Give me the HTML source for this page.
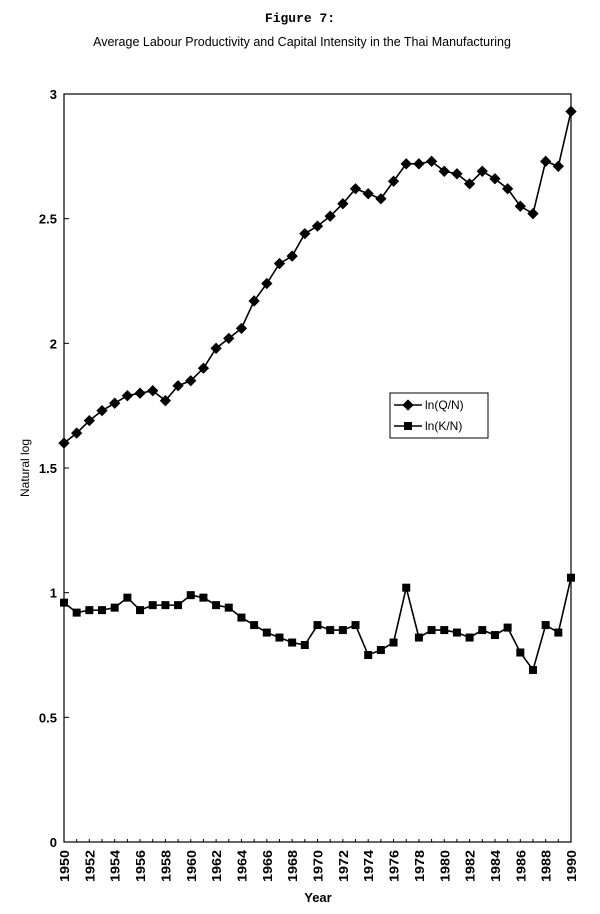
<!DOCTYPE html>
<html><head><meta charset="utf-8"><style>
body{margin:0;background:#fff;width:600px;height:914px;overflow:hidden}
svg{display:block}
text{font-family:"Liberation Sans",sans-serif;fill:#000}
</style></head><body>
<svg width="600" height="914" id="chart">
<text x="300" y="22" text-anchor="middle" style="font-family:'Liberation Mono',monospace;font-size:13px;font-weight:bold">Figure 7:</text>
<text x="302" y="46" text-anchor="middle" font-size="12.5">Average Labour Productivity and Capital Intensity in the Thai Manufacturing</text>
<rect x="64" y="94" width="507" height="748" fill="none" stroke="#000" stroke-width="1.2"/>
<text transform="translate(29,468) rotate(-90)" text-anchor="middle" font-size="12">Natural log</text>
<text x="318" y="902" text-anchor="middle" font-size="13" font-weight="bold">Year</text>
<g id="axes"></g>
<g id="series"></g>
<g>
<rect x="390" y="393" width="98" height="45" fill="#fff" stroke="#000"/>
<line x1="394" y1="405" x2="422" y2="405" stroke="#000" stroke-width="1.5"/>
<rect x="404" y="401" width="8" height="8" transform="rotate(45 408 405)" fill="#000"/>
<text x="425" y="409" font-size="12">ln(Q/N)</text>
<line x1="394" y1="426" x2="422" y2="426" stroke="#000" stroke-width="1.5"/>
<rect x="404" y="422" width="8" height="8" fill="#000"/>
<text x="425" y="430" font-size="12">ln(K/N)</text>
</g>
</svg>
<script>
const years=[];for(let y=1950;y<=1990;y++)years.push(y);
const qn=[1.60,1.64,1.69,1.73,1.76,1.79,1.80,1.81,1.77,1.83,1.85,1.90,1.98,2.02,2.06,2.17,2.24,2.32,2.35,2.44,2.47,2.51,2.56,2.62,2.60,2.58,2.65,2.72,2.72,2.73,2.69,2.68,2.64,2.69,2.66,2.62,2.55,2.52,2.73,2.71,2.93];
const kn=[0.96,0.92,0.93,0.93,0.94,0.98,0.93,0.95,0.95,0.95,0.99,0.98,0.95,0.94,0.90,0.87,0.84,0.82,0.80,0.79,0.87,0.85,0.85,0.87,0.75,0.77,0.80,1.02,0.82,0.85,0.85,0.84,0.82,0.85,0.83,0.86,0.76,0.69,0.87,0.84,1.06];
const yTicks=[0,0.5,1,1.5,2,2.5,3];
const yTickLabels=["0","0.5","1","1.5","2","2.5","3"];
const NS="http://www.w3.org/2000/svg";
const X0=64,X1=571,Y0=842,Y1=94;
const xs=i=>X0+i*(X1-X0)/(years.length-1);
const ys=v=>Y0-(v/3)*(Y0-Y1);
const ax=document.getElementById('axes'),se=document.getElementById('series');
function mk(t,a,p){const e=document.createElementNS(NS,t);for(const k in a)e.setAttribute(k,a[k]);p.appendChild(e);return e;}
yTicks.forEach((v,i)=>{
 const l=mk('line',{x1:X0,x2:X0+5,y1:ys(v),y2:ys(v),stroke:'#000'},ax);
 
 
 const t=mk('text',{x:X0-7,y:ys(v)+5,'text-anchor':'end','font-size':'13','font-weight':'bold'},ax);
 
 
 t.textContent=yTickLabels[i];
});
years.forEach((y,i)=>{
 const l=mk('line',{x1:xs(i),x2:xs(i),y1:Y0,y2:Y0-3,stroke:'#000'},ax);
 
 
 if(i%2===0){
  const t=mk('text',{transform:`translate(${xs(i)+5},${Y0+8}) rotate(-90)`,'text-anchor':'end','font-size':'13','font-weight':'bold','textLength':'32','lengthAdjust':'spacingAndGlyphs'},ax);
  
  
  t.textContent=y;
 }
});
function series(vals,name,shape){
 const p=mk('polyline',{points:vals.map((v,i)=>xs(i)+','+ys(v)).join(' '),fill:'none',stroke:'#000','stroke-width':'1.6'},se);
 
 
 vals.forEach((v,i)=>{
  const x=xs(i),y=ys(v);
  const m=mk('rect',{x:x-4,y:y-4,width:8,height:8,fill:'#000'},se);
  if(shape==='d')m.setAttribute('transform',`rotate(45 ${x} ${y})`);
  
  
 });
}
series(qn,'qn','d');
series(kn,'kn','s');
</script>
</body></html>
